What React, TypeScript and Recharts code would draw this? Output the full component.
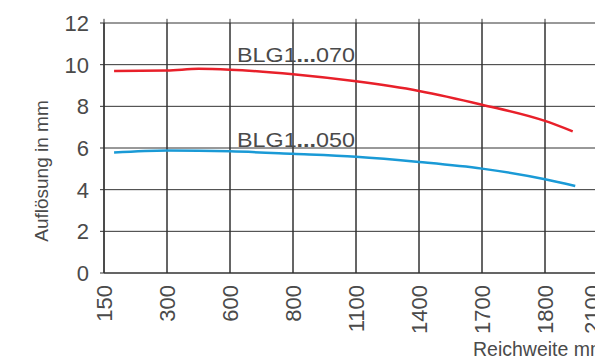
import { LineChart, Line, XAxis, YAxis, ReferenceLine, CartesianGrid } from 'recharts';

// x positions are slot indices: the range axis is evenly spaced, not linear
const rangeLabels = ['150', '300', '600', '800', '1100', '1400', '1700', '1800', '2100'];
const rangeSlots = [0, 1, 2, 3, 4, 5, 6, 7, 8];
const resolutionTicks = [0, 2, 4, 6, 8, 10, 12];

const slots = [0.16, 1, 1.5, 2, 3, 4, 5, 6, 7, 7.44, 7.48];
const blg070 = [9.7, 9.72, 9.8, 9.76, 9.54, 9.2, 8.74, 8.08, 7.3, 6.8, null];
const blg050 = [5.78, 5.88, null, 5.84, 5.72, 5.58, 5.33, 5.01, 4.5, null, 4.18];

const rows = slots.map((slot, i) => ({ slot, blg070: blg070[i], blg050: blg050[i] }));

const FONT = '"Liberation Sans", Arial, sans-serif';
const INK = '#4a4a4a';
const GRID = '#333';

const XTick = ({ x, y, payload }: any) => {
  // the last label sits a little left of its grid line in the original
  const shift = payload.value === rangeSlots[rangeSlots.length - 1] ? -16 : 0;
  return (
    <text
      transform={`translate(${x + shift},${y + 10}) rotate(-90)`}
      textAnchor="end"
      dy="0.36em"
      fontSize={22}
      fontFamily={FONT}
      fill={INK}
    >
      {rangeLabels[payload.value]}
    </text>
  );
};

const YTick = ({ x, y, payload }: any) => (
  <text x={x - 9} y={y} dy="0.36em" textAnchor="end" fontSize={22} fontFamily={FONT} fill={INK}>
    {payload.value}
  </text>
);

const SeriesLabel = ({ x, y, suffix }: { x: number; y: number; suffix: string }) => (
  <text x={x} y={y} fontSize={21} fontFamily={FONT} fill={INK} textLength={118} lengthAdjust="spacingAndGlyphs">
    BLG1<tspan fontWeight="bold">...</tspan>
    {suffix}
  </text>
);

export default function App() {
  return (
    <div
      style={{
        position: 'absolute',
        left: 0,
        top: 0,
        width: 595,
        height: 358,
        overflow: 'hidden',
        background: '#fff',
      }}
    >
      <LineChart data={rows} width={640} height={358} margin={{ top: 23, right: 32, bottom: 0, left: 0 }}>
        <CartesianGrid stroke={GRID} horizontal={false} />
        <XAxis
          type="number"
          dataKey="slot"
          domain={[0, 8]}
          ticks={rangeSlots}
          height={85}
          tickSize={0}
          tick={<XTick />}
          axisLine={{ stroke: GRID }}
          tickLine={false}
          interval={0}
          allowDataOverflow
        />
        <YAxis
          type="number"
          domain={[0, 12]}
          ticks={resolutionTicks}
          width={104}
          tickSize={4}
          tick={<YTick />}
          axisLine={{ stroke: GRID }}
          tickLine={{ stroke: GRID }}
          interval={0}
          allowDataOverflow
        />
        {resolutionTicks.map((t) => (
          <ReferenceLine key={`h${t}`} y={t} stroke={GRID} strokeWidth={1} />
        ))}
        {rangeSlots.map((s) => (
          <ReferenceLine
            key={`v${s}`}
            segment={[
              { x: s, y: 0 },
              { x: s, y: 12.2 },
            ]}
            ifOverflow="visible"
            stroke={GRID}
            strokeWidth={1}
          />
        ))}
        <Line
          dataKey="blg070"
          type="monotone"
          connectNulls
          stroke="#e8202a"
          strokeWidth={2.5}
          dot={false}
          isAnimationActive={false}
        />
        <Line
          dataKey="blg050"
          type="monotone"
          connectNulls
          stroke="#1a9ad6"
          strokeWidth={2.5}
          dot={false}
          isAnimationActive={false}
        />
      </LineChart>
      <svg width={595} height={358} style={{ position: 'absolute', left: 0, top: 0, pointerEvents: 'none' }}>
        <SeriesLabel x={237} y={62} suffix="070" />
        <SeriesLabel x={237} y={147} suffix="050" />
        <text
          transform="translate(48,171) rotate(-90)"
          textAnchor="middle"
          fontSize={19}
          fontFamily={FONT}
          fill={INK}
        >
          Auflösung in mm
        </text>
        <text x={473} y={356} fontSize={19.5} fontFamily={FONT} fill={INK}>
          Reichweite mm
        </text>
      </svg>
    </div>
  );
}
